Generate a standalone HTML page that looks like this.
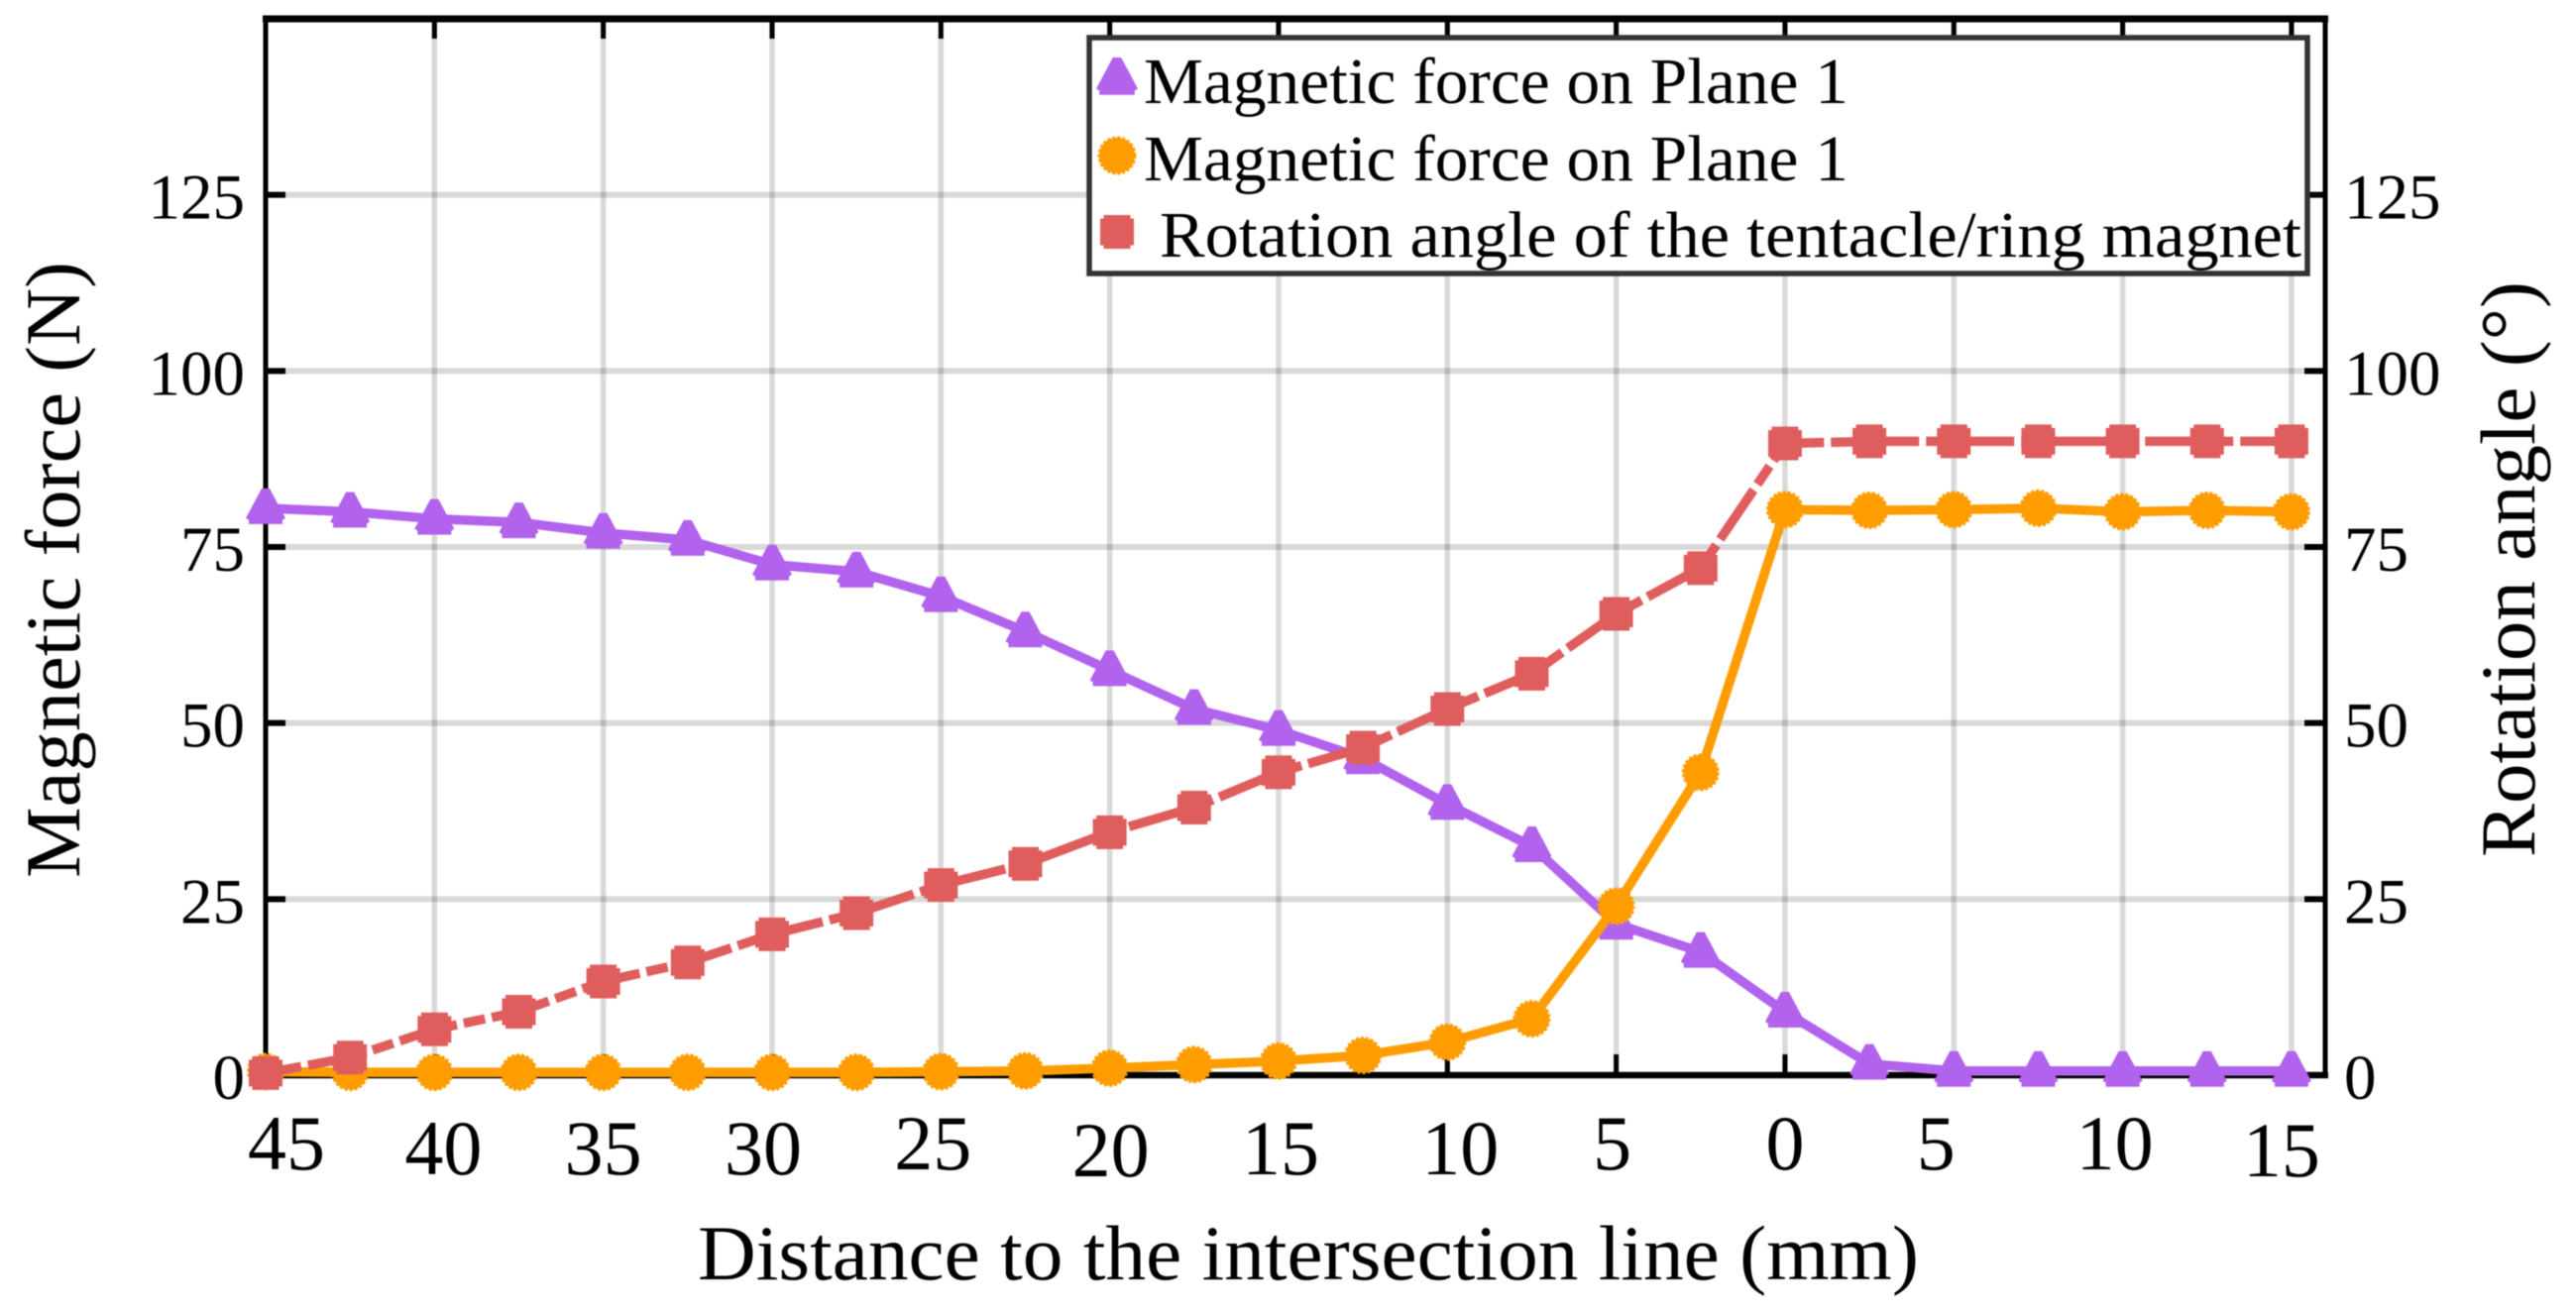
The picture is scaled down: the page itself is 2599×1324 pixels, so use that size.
<!DOCTYPE html>
<html lang="en">
<head>
<meta charset="utf-8">
<title>Magnetic force and rotation angle chart</title>
<style>
html,body{margin:0;padding:0;background:#fff;}
svg{display:block;filter:blur(0.6px);}
text{font-family:"Liberation Serif",serif;fill:#000;}
</style>
</head>
<body>
<svg id="chart" xmlns="http://www.w3.org/2000/svg" width="2599" height="1324" viewBox="0 0 2599 1324">
  <rect x="0" y="0" width="2599" height="1324" fill="#fff"/>
  <g id="grid"></g>
  <g id="ticks"></g>
  <g id="frame">
    <rect x="265.5" y="16" width="2081" height="1069" fill="none" stroke="none"/>
    <line x1="268" y1="16" x2="268" y2="1088" stroke="#000" stroke-width="5"/>
    <line x1="2346" y1="16" x2="2346" y2="1088" stroke="#000" stroke-width="5"/>
    <line x1="265" y1="19" x2="2349" y2="19" stroke="#000" stroke-width="7"/>
    <line x1="265" y1="1085" x2="2349" y2="1085" stroke="#000" stroke-width="6.5"/>
  </g>
  <g id="tick-labels"></g>
  <g id="series"></g>
  <text x="704" y="1291" font-size="78" textLength="1232" lengthAdjust="spacingAndGlyphs">Distance to the intersection line (mm)</text>
  <text transform="translate(80 886) rotate(-90)" x="0" y="0" font-size="78" textLength="622" lengthAdjust="spacingAndGlyphs">Magnetic force (N)</text>
  <text transform="translate(2557 865) rotate(-90)" x="0" y="0" font-size="78" textLength="581" lengthAdjust="spacingAndGlyphs">Rotation angle (°)</text>
  <g id="legend">
    <rect x="1099" y="38" width="1229" height="238" fill="#fff" stroke="#333" stroke-width="5.5"/>
    <g id="legend-markers"></g>
    <text x="1154" y="104" font-size="66" textLength="711" lengthAdjust="spacingAndGlyphs">Magnetic force on Plane 1</text>
    <text x="1154" y="182" font-size="66" textLength="711" lengthAdjust="spacingAndGlyphs">Magnetic force on Plane 1</text>
    <text x="1170" y="259" font-size="66" textLength="1152" lengthAdjust="spacingAndGlyphs">Rotation angle of the tentacle/ring magnet</text>
  </g>
</svg>
<script>
/* ---------- chart data ---------- */
const xCategories = [45,42.5,40,37.5,35,32.5,30,27.5,25,22.5,20,17.5,15,12.5,10,7.5,5,2.5,0,2.5,5,7.5,10,12.5,15];
const xTickLabels = ["45","40","35","30","25","20","15","10","5","0","5","10","15"];
const yTickValues = [0,25,50,75,100,125];
const yTickLabels = ["0","25","50","75","100","125"];
const forcePlanePurple = [80.5,80,79,78.5,77,76,72.5,71.5,68,63,57.5,52,49,45,38.5,32.5,21.5,17.5,9,1.6,0.6,0.6,0.6,0.6,0.6];
const forcePlaneOrange = [0.5,0.4,0.4,0.4,0.4,0.4,0.4,0.4,0.5,0.6,1,1.5,2,2.8,4.7,8,24,43,80.3,80.2,80.3,80.5,80,80.2,80];
const rotationAngle = [0.3,2.5,6.5,9,13.3,16,20,23,27,30,34.5,38,43,46.5,52,57,65.5,72,89.7,90,90,90,90,90,90];

/* ---------- hand-placement offsets of the x tick labels (layout, not data) ---------- */
const xLabelShiftX = [21,9,0,-9,-8,1,2,13,-4,0,-18,-8,-10];
const xLabelBaselineShift = [-5,0,0,0,-5,2,0,0,-5,-5,-5,-5,2];

/* ---------- axis functions ---------- */
const xDomainEnd = 24.4;
function xScale(i){ return 268 + (i / xDomainEnd) * (2346 - 268); }
function yScale(v){ return 1085 - (v / 150) * (1085 - 19); }

const NS = "http://www.w3.org/2000/svg";
function mk(tag, attrs, parent){
  const el = document.createElementNS(NS, tag);
  for (const k in attrs) el.setAttribute(k, attrs[k]);
  parent.appendChild(el);
  return el;
}
const gridG = document.getElementById("grid");
const ticksG = document.getElementById("ticks");
const labelsG = document.getElementById("tick-labels");
const seriesG = document.getElementById("series");
const legendMarkersG = document.getElementById("legend-markers");

/* ---------- grid, ticks and tick labels ---------- */
xTickLabels.forEach(function(label, k){
  const x = xScale(k * 2);
  if (k > 0) {
    const g = mk("line", {x1:x, y1:19, x2:x, y2:1085, stroke:"#000", "stroke-opacity":"0.15", "stroke-width":5.5}, gridG);
    
    
    const t1 = mk("line", {x1:x, y1:19, x2:x, y2:39, stroke:"#000", "stroke-width":5}, ticksG);
    
    
    const t2 = mk("line", {x1:x, y1:1085, x2:x, y2:1064, stroke:"#000", "stroke-width":5}, ticksG);
    
    
  }
  const txt = mk("text", {x:x + xLabelShiftX[k], y:1185 + xLabelBaselineShift[k], "font-size":78, "text-anchor":"middle"}, labelsG);
  
  
  txt.textContent = label;
});

yTickValues.forEach(function(v, k){
  const y = yScale(v);
  if (v > 0) {
    const g = mk("line", {x1:268, y1:y, x2:2346, y2:y, stroke:"#000", "stroke-opacity":"0.15", "stroke-width":6}, gridG);
    
    
    const t1 = mk("line", {x1:268, y1:y, x2:288, y2:y, stroke:"#000", "stroke-width":6}, ticksG);
    
    
    const t2 = mk("line", {x1:2325, y1:y, x2:2346, y2:y, stroke:"#000", "stroke-width":6}, ticksG);
    
    
  }
  const l = mk("text", {x:247, y:y + 24, "font-size":65, "text-anchor":"end"}, labelsG);
  
  
  l.textContent = yTickLabels[k];
  const r = mk("text", {x:2365, y:y + 24, "font-size":65, "text-anchor":"start"}, labelsG);
  
  
  r.textContent = yTickLabels[k];
});

/* ---------- marker shapes ---------- */
const PURPLE = "#b263ee";
const ORANGE = "#ff9d00";
const RED = "#e05d5d";
function triangleAt(cx, cy, parent, s){
  const shape = [[-4,-20],[4,-20],[20,10],[17,12],[17,16],[-17,16],[-17,12],[-20,10]];
  const pts = shape.map(function(p){ return (cx + p[0]*s) + "," + (cy + p[1]*s); }).join(" ");
  return mk("polygon", {points:pts, fill:PURPLE}, parent);
}
function circleAt(cx, cy, parent, s){
  return mk("circle", {cx:cx, cy:cy, r:17.5*s, fill:ORANGE, stroke:ORANGE, "stroke-width":3, "stroke-dasharray":"3 2"}, parent);
}
function squareAt(cx, cy, parent, s){
  const a = 17*s, b = 13.5*s;
  const pts = [[-b,-a],[b,-a],[b,-b],[a,-b],[a,b],[b,b],[b,a],[-b,a],[-b,b],[-a,b],[-a,-b],[-b,-b]]
    .map(function(p){ return (cx + p[0]) + "," + (cy + p[1]); }).join(" ");
  return mk("polygon", {points:pts, fill:RED}, parent);
}
function linePoints(values){
  return values.map(function(v, i){ return xScale(i) + "," + yScale(v); }).join(" ");
}

/* ---------- series: purple ---------- */
const purpleLine = mk("polyline", {points:linePoints(forcePlanePurple), fill:"none", stroke:PURPLE, "stroke-width":9.5, "stroke-linejoin":"round"}, seriesG);


forcePlanePurple.forEach(function(v, i){
  const m = triangleAt(xScale(i), yScale(v), seriesG, 1);
  
  
});

/* ---------- series: orange ---------- */
const orangeLine = mk("polyline", {points:linePoints(forcePlaneOrange), fill:"none", stroke:ORANGE, "stroke-width":9.5, "stroke-linejoin":"round"}, seriesG);


forcePlaneOrange.forEach(function(v, i){
  const m = circleAt(xScale(i), yScale(v), seriesG, 1);
  
  
});

/* ---------- series: red dash-dot ---------- */
const redLine = mk("polyline", {points:linePoints(rotationAngle), fill:"none", stroke:RED, "stroke-width":9.5, "stroke-dasharray":"60 7 22 7", "stroke-dashoffset":"52.5"}, seriesG);


rotationAngle.forEach(function(v, i){
  const m = squareAt(xScale(i), yScale(v), seriesG, 1);
  
  
});

/* ---------- legend markers ---------- */
const legendTriangle = triangleAt(1127, 79, legendMarkersG, 1.05);


const legendCircle = circleAt(1127, 157, legendMarkersG, 1.03);


const legendSquare = squareAt(1127, 234, legendMarkersG, 1);


</script>
</body>
</html>
